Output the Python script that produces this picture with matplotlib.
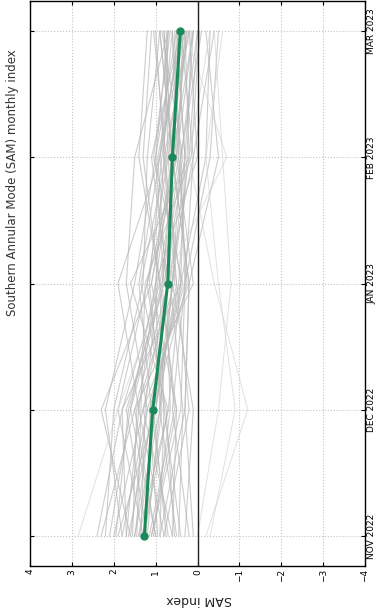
import numpy as np
from matplotlib import pyplot as plt

# months along the (rotated) vertical axis, SAM index along the horizontal one
months = ['NOV 2022', 'DEC 2022', 'JAN 2023', 'FEB 2023', 'MAR 2023']
sam_mean = [1.27, 1.07, 0.71, 0.60, 0.41]

members = [
    [1.2, 0.9, 0.6, 0.3, 0.5],
    [2.1, 1.6, 1.0, 0.8, 0.2],
    [0.4, 0.8, 1.2, 0.5, 0.1],
    [1.8, 2.2, 1.5, 1.0, 0.7],
    [0.9, 0.3, 0.2, 0.6, 0.9],
    [1.5, 1.1, 0.4, -0.2, -0.3],
    [2.4, 1.8, 0.9, 0.4, 0.6],
    [0.6, 1.3, 0.7, 1.1, 0.4],
    [1.1, 0.5, 0.9, 1.4, 1.2],
    [1.7, 1.4, 1.9, 0.9, 0.3],
    [0.2, 0.6, 0.3, 0.1, -0.4],
    [1.3, 1.9, 1.2, 0.7, 0.8],
    [0.8, 0.2, 0.5, 0.9, 0.6],
    [1.9, 1.0, 0.6, 0.2, 0.0],
    [1.0, 1.5, 0.1, 0.5, 0.3],
    [2.2, 2.0, 1.3, 1.2, 0.9],
    [0.5, 0.9, 1.0, 0.0, 0.2],
    [1.4, 0.7, 0.4, 0.8, 1.0],
    [1.6, 1.2, 1.7, 1.5, 0.7],
    [0.3, 0.1, 0.6, 0.4, -0.1],
    [1.2, 1.7, 0.8, 0.3, 0.5],
    [2.0, 1.3, 0.2, 0.6, 0.1],
    [0.7, 1.1, 1.4, 0.9, 0.4],
    [1.1, 0.4, 0.3, -0.3, -0.5],
    [1.6, 2.3, 1.1, 0.5, 0.6],
    [0.9, 0.8, 0.9, 1.3, 1.1],
    [1.4, 1.0, 0.5, 0.7, 0.2],
    [2.3, 1.5, 0.7, 0.1, 0.4],
    [0.6, 0.5, 1.1, 0.6, 0.8],
    [1.8, 1.2, 0.3, 0.4, 0.0],
    [1.0, 1.6, 0.8, 1.0, 0.5],
    [1.3, 0.7, 1.6, 0.2, 0.3],
    [0.1, 0.3, 0.2, -0.5, -0.2],
    [1.5, 0.9, 0.6, 0.8, 0.7],
    [1.7, 1.8, 0.4, 0.3, 0.1],
    [0.8, 1.4, 1.0, 0.6, 0.9],
    [1.35, 1.25, 0.95, 0.45, 0.55],
    [1.05, 0.65, 0.75, 0.95, 0.35],
    [1.55, 1.45, 0.55, 0.65, 0.75],
    [0.75, 1.05, 0.45, 0.25, 0.15],
    [1.25, 0.85, 1.15, 0.85, 0.45],
    [1.95, 1.65, 0.85, 0.55, 0.25],
    [0.45, 0.35, 0.65, 0.75, 1.05],
    [1.45, 1.35, 1.25, 0.15, -0.05],
    [0.95, 1.15, 0.35, 1.05, 0.65],
    [1.15, 0.55, 0.85, 0.35, 0.85],
    [1.65, 1.05, 0.25, 0.45, 0.35],
    [0.55, 0.75, 1.35, 0.75, 0.25],
]
# fainter outliers
outliers = [
    [-0.3, -0.9, -0.5, -0.2, -0.6],
    [2.85, 1.9, 0.8, -0.7, 0.3],
    [-0.2, -1.2, -0.4, 0.2, -0.3],
    [0.0, -0.5, -0.8, -0.6, -0.4],
]

fig = plt.figure(figsize=(3.75, 6.16), dpi=100)
ax = fig.add_axes([30/375, 50/616, 335/375, 565/616])

pos = np.arange(len(months))
for m in members:
    ax.plot(m, pos, color='#b8b8b8', lw=0.8, alpha=0.7, zorder=2)
for m in outliers:
    ax.plot(m, pos, color='#d4d4d4', lw=0.7, alpha=0.7, zorder=2)
ax.axvline(0, color='#222222', lw=1.0, zorder=3)
ax.plot(sam_mean, pos, color='#1b8a5a', lw=2.2, marker='o', ms=5, zorder=4)

ax.set_xlim(4, -4)
ax.set_ylim(-0.238, 4.238)
ax.set_xticks(np.arange(-4, 5))
ax.set_xticklabels([str(v).replace('-', '\u2212') for v in range(-4, 5)],
                   rotation=90, fontsize=6.5)
ax.set_yticks(pos)
ax.set_yticklabels(months, rotation=90, va='center', fontsize=6.5)
ax.yaxis.tick_right()
ax.tick_params(axis='both', direction='in', length=3, pad=2)
ax.tick_params(axis='y', left=True, right=True, pad=1.5)
ax.tick_params(axis='x', top=True, bottom=True)
ax.grid(True, ls=':', color='#c4c4c4', lw=0.8)
for s in ax.spines.values():
    s.set_linewidth(1.0)

fig.text(13/375, 1 - 183/616, 'Southern Annular Mode (SAM) monthly index',
         rotation=90, ha='center', va='center', fontsize=8.5, color='#333333')
fig.text(199/375, 1 - 600/616, 'SAM index', rotation=180,
         ha='center', va='center', fontsize=9, color='#222222')

fig.savefig('out.png', dpi=100)
